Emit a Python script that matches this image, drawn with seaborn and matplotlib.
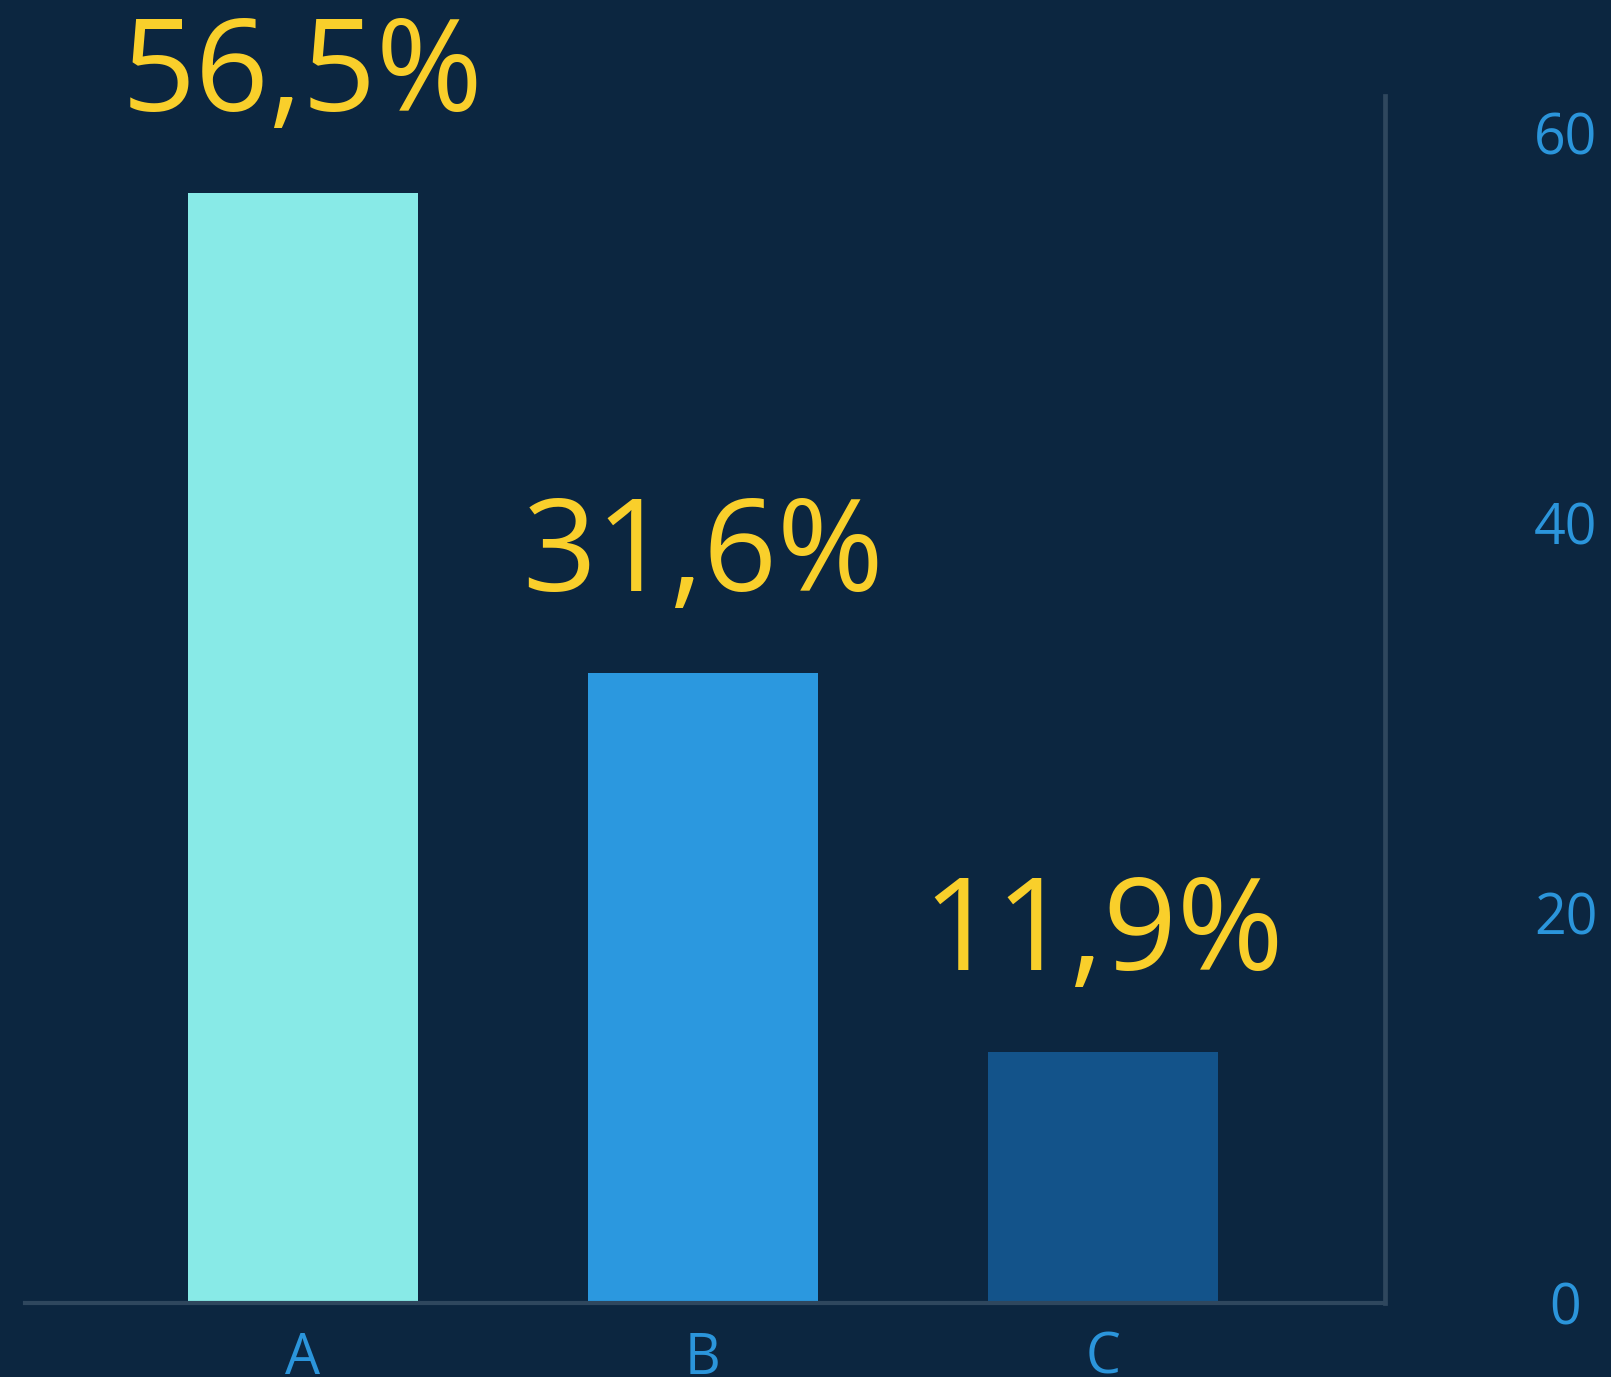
import matplotlib
matplotlib.use("Agg")
import matplotlib.pyplot as plt
import seaborn as sns
import pandas as pd

categories = ["A", "B", "C"]
shares = [56.5, 31.6, 11.9]
value_labels = ["56,5%", "31,6%", "11,9%"]
tick_values = [0, 20, 40, 60]

bg = "#0C2640"
bar_colors = ["#88EAE7", "#2B98DF", "#13538A"]
label_color = "#F9CF2B"
tick_color = "#2B95DB"
line_color = "#2F475E"

sns.set_style("white")
plt.rcParams["font.family"] = ["Open Sans", "DejaVu Sans"]

# bars start a little under the visible floor, as in the original
y_floor = -1.13
df = pd.DataFrame({"cat": categories, "share": shares})
df["span"] = df["share"] - y_floor

fig = plt.figure(figsize=(16.11, 13.77), dpi=100, facecolor=bg)
ax = fig.add_axes([0.0155, 0.0537, 0.8442, 0.8766])
ax.set_facecolor(bg)

sns.barplot(data=df, x="cat", y="span", hue="cat", palette=bar_colors,
            saturation=1, width=0.575, legend=False, linewidth=0,
            bottom=y_floor, ax=ax)
ax.set_xlim(-0.695, 2.705)
ax.set_ylim(y_floor, 61.54)

for i, (v, txt) in enumerate(zip(shares, value_labels)):
    ax.annotate(txt, (i, v), xytext=(0, 59), textcoords="offset points",
                ha="center", va="baseline", fontsize=93, color=label_color)

ax.set_xlabel("")
ax.set_ylabel("")
ax.set_yticks([])
ax.tick_params(axis="x", length=0, pad=20, labelsize=40, labelcolor=tick_color)

# scale shown on the right side
ax2 = ax.twinx()
ax2.set_ylim(0, 61.9)
ax2.set_yticks(tick_values)
ax2.set_yticklabels([str(t) for t in tick_values], ha="center")
ax2.tick_params(axis="y", length=0, pad=130, labelsize=40, labelcolor=tick_color)

for a in (ax, ax2):
    for side in ("top", "left", "right", "bottom"):
        a.spines[side].set_visible(False)
ax.spines["bottom"].set_visible(True)
ax.spines["bottom"].set_color(line_color)
ax.spines["bottom"].set_linewidth(3.0)
ax.spines["bottom"].set_zorder(5)
ax2.spines["right"].set_visible(True)
ax2.spines["right"].set_color(line_color)
ax2.spines["right"].set_linewidth(3.4)

fig.savefig("out.png", dpi=100, facecolor=bg)
